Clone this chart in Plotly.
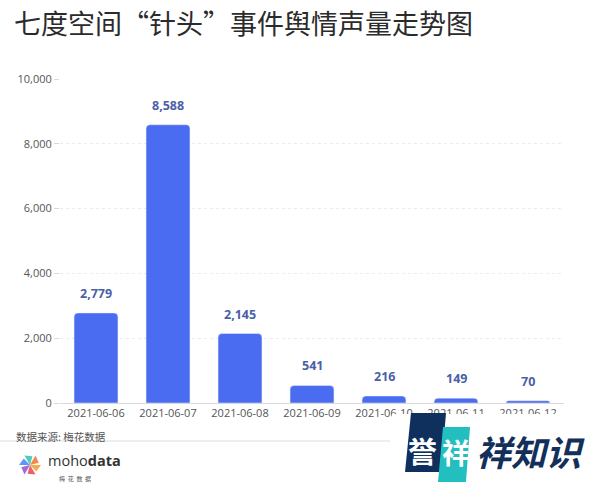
import plotly.graph_objects as go
import math

dates = ["2021-06-06", "2021-06-07", "2021-06-08", "2021-06-09", "2021-06-10", "2021-06-11", "2021-06-12"]
volumes = [2779, 8588, 2145, 541, 216, 149, 70]
y_ticks = [0, 2000, 4000, 6000, 8000, 10000]
y_tick_text = ["0", "2,000", "4,000", "6,000", "8,000", "10,000"]

W, H = 600, 493
ML, MR, MT, MB = 60, 36, 79, 90
PW, PH = W - ML - MR, H - MT - MB

def px(x):
    return (x - ML) / PW

def py(y):
    return (H - MB - y) / PH

CJK = "Noto Sans CJK SC"

fig = go.Figure()
fig.add_trace(go.Bar(
    x=dates, y=volumes,
    marker=dict(color="#4a6cf0", cornerradius=4),
    width=0.61,
    hoverinfo="skip",
))

shapes = [
    dict(type="line", xref="paper", yref="paper", x0=px(0), x1=px(390), y0=py(441), y1=py(441),
         line=dict(color="#dddddd", width=1)),
    dict(type="rect", xref="paper", yref="paper", x0=px(392), x1=px(600), y0=py(414), y1=py(493),
         fillcolor="white", line=dict(width=0), layer="above"),
    dict(type="path", xref="paper", yref="paper",
         path="M {} {} L {} {} L {} {} L {} {} Z".format(px(411), py(413), px(446), py(413), px(441), py(472), px(405), py(472)),
         fillcolor="#0f2f5c", line=dict(width=0)),
    dict(type="path", xref="paper", yref="paper",
         path="M {} {} L {} {} L {} {} L {} {} Z".format(px(443), py(427), px(470), py(427), px(466), py(482), px(438), py(482)),
         fillcolor="#23bfc0", line=dict(width=0)),
]

petal_colors = ["#f2a23a", "#e8505b", "#9b59d0", "#4f8df0", "#3cc6b4", "#f27a3a"]
cx, cy = 30, 465
for i, c in enumerate(petal_colors):
    a = math.radians(i * 60 + 20)
    shapes.append(dict(type="path", xref="paper", yref="paper",
                       path="M {} {} L {} {} L {} {} Z".format(
                           px(cx), py(cy),
                           px(cx + 11 * math.cos(a - 0.35)), py(cy + 11 * math.sin(a - 0.35)),
                           px(cx + 9 * math.cos(a + 0.45)), py(cy + 9 * math.sin(a + 0.45))),
                       fillcolor=c, opacity=0.9, line=dict(width=0)))

annotations = [
    dict(text="七度空间“针头”事件舆情声量走势图", xref="paper", yref="paper",
         x=px(12), y=py(23), xanchor="left", yanchor="middle", showarrow=False,
         font=dict(family=CJK, size=27, color="#2b2b2b")),
    dict(text="数据来源: 梅花数据", xref="paper", yref="paper",
         x=px(14), y=py(436), xanchor="left", yanchor="middle", showarrow=False,
         font=dict(family=CJK, size=10.5, color="#555555")),
    dict(text="moho<b>data</b>", xref="paper", yref="paper",
         x=px(46), y=py(461), xanchor="left", yanchor="middle", showarrow=False,
         font=dict(family="Open Sans", size=14.5, color="#333333")),
    dict(text="梅  花  数  据", xref="paper", yref="paper",
         x=px(75), y=py(478), xanchor="center", yanchor="middle", showarrow=False,
         font=dict(family=CJK, size=6, color="#555555")),
    dict(text="<b>誉</b>", xref="paper", yref="paper",
         x=px(422), y=py(450), xanchor="center", yanchor="middle", showarrow=False,
         font=dict(family=CJK, size=29, color="#ffffff")),
    dict(text="<b>祥</b>", xref="paper", yref="paper",
         x=px(456), y=py(452), xanchor="center", yanchor="middle", showarrow=False,
         font=dict(family=CJK, size=28, color="#ffffff")),
    dict(text="<b><i>祥知识</i></b>", xref="paper", yref="paper",
         x=px(474), y=py(450), xanchor="left", yanchor="middle", showarrow=False,
         font=dict(family=CJK, size=35, color="#12305a")),
]

for d, v in zip(dates, volumes):
    annotations.append(dict(
        x=d, y=v, xref="x", yref="y", text="<b>{:,}</b>".format(v), showarrow=False,
        yanchor="bottom", yshift=9,
        font=dict(family="Open Sans", size=12.5, color="#4a5fa8"),
    ))

fig.update_layout(
    width=W, height=H,
    margin=dict(l=ML, r=MR, t=MT, b=MB, pad=0),
    paper_bgcolor="white", plot_bgcolor="white",
    showlegend=False,
    shapes=shapes,
    annotations=annotations,
    font=dict(family="Open Sans", color="#666666"),
    xaxis=dict(
        type="category", showgrid=False, showline=True, linecolor="#d9d9d9", linewidth=1,
        ticks="", tickfont=dict(size=11, color="#555555"), fixedrange=True,
    ),
    yaxis=dict(
        range=[0, 10000], tickvals=y_ticks, ticktext=y_tick_text,
        showgrid=True, gridcolor="#ececec", griddash="dot", gridwidth=1,
        zeroline=False, showline=False,
        ticks="outside", ticklen=5, tickcolor="#d9d9d9",
        tickfont=dict(size=11, color="#555555"), fixedrange=True,
    ),
)

fig.write_html("out.html")
